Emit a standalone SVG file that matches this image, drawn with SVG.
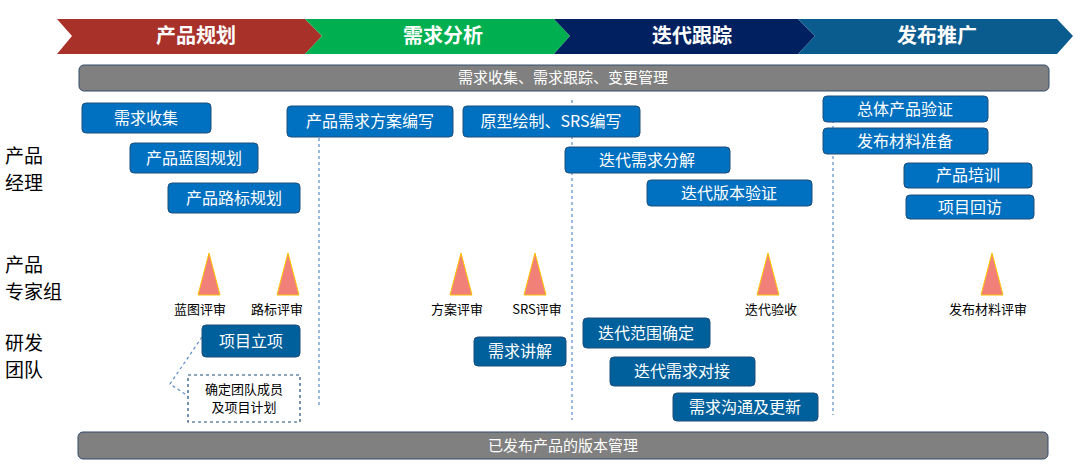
<svg xmlns="http://www.w3.org/2000/svg" width="1080" height="469" viewBox="0 0 1080 469">
<style>
text{font-family:"Noto Sans CJK SC","Liberation Sans",sans-serif}
.ph{fill:#fff;font-size:20px;font-weight:bold;text-anchor:middle}
.bar{fill:#808080;stroke:#2F4A6B;stroke-width:1}
.bt{fill:#fff;font-size:15px;text-anchor:middle}
.b{fill:#0070C0;stroke:#1F4E79;stroke-width:1}
.d{fill:#00609C;stroke:#1F4E79;stroke-width:1}
.t{fill:#fff;font-size:16px;text-anchor:middle}
.tri{fill:#F08078;stroke:#FFC000;stroke-width:1}
.lab{fill:#000;font-size:13px;text-anchor:middle}
.side{fill:#000;font-size:19px}
.dash{stroke:#5B8DC9;stroke-width:1.2;stroke-dasharray:3,3;fill:none}
</style>
<g id="phases">
<polygon points="57,19 305,19 322,36 305,54 57,54 72,36" fill="#A8312A"/>
<text class="ph" x="196" y="43">产品规划</text>
<polygon points="305,19 554,19 570,36 554,54 305,54 322,36" fill="#00B050"/>
<text class="ph" x="443" y="43">需求分析</text>
<polygon points="554,19 798,19 815,36 798,54 554,54 570,36" fill="#002060"/>
<text class="ph" x="692" y="43">迭代跟踪</text>
<polygon points="798,19 1057,19 1073,36 1057,54 798,54 815,36" fill="#0B5C8E"/>
<text class="ph" x="937" y="43">发布推广</text>
</g>
<g id="bar-top"><rect class="bar" x="79" y="65" width="970" height="26" rx="5"/><text class="bt" x="563" y="83">需求收集、需求跟踪、变更管理</text></g>
<g id="bar-bottom"><rect class="bar" x="78" y="432" width="970" height="27" rx="5"/><text class="bt" x="563" y="451">已发布产品的版本管理</text></g>
<g id="connectors">
<line class="dash" x1="319" y1="108" x2="319" y2="405"/>
<line class="dash" x1="572" y1="100" x2="572" y2="420"/>
<line class="dash" x1="833" y1="96" x2="833" y2="415"/>
<polyline class="dash" points="202,337 170,384 188,396"/>
</g>
<g id="side-labels">
<text class="side" x="5" y="163">产品</text><text class="side" x="5" y="190">经理</text>
<text class="side" x="5" y="272">产品</text><text class="side" x="5" y="299">专家组</text>
<text class="side" x="5" y="350">研发</text><text class="side" x="5" y="377">团队</text>
</g>
<g id="n1"><rect class="b" x="82" y="103" width="129" height="30" rx="4"/><text class="t" x="146" y="124">需求收集</text></g>
<g id="n2"><rect class="b" x="130" y="143" width="128" height="30" rx="4"/><text class="t" x="194" y="164">产品蓝图规划</text></g>
<g id="n3"><rect class="b" x="168" y="183" width="132" height="30" rx="4"/><text class="t" x="234" y="204">产品路标规划</text></g>
<g id="n4"><rect class="b" x="287" y="106" width="166" height="31" rx="4"/><text class="t" x="370" y="127">产品需求方案编写</text></g>
<g id="n5"><rect class="b" x="463" y="106" width="177" height="31" rx="4"/><text class="t" x="551" y="127">原型绘制、SRS编写</text></g>
<g id="n6"><rect class="b" x="565" y="147" width="165" height="26" rx="4"/><text class="t" x="647" y="166">迭代需求分解</text></g>
<g id="n7"><rect class="b" x="647" y="180" width="165" height="26" rx="4"/><text class="t" x="729" y="199">迭代版本验证</text></g>
<g id="n8"><rect class="b" x="823" y="96" width="165" height="26" rx="4"/><text class="t" x="905" y="115">总体产品验证</text></g>
<g id="n9"><rect class="b" x="823" y="128" width="165" height="26" rx="4"/><text class="t" x="905" y="147">发布材料准备</text></g>
<g id="n10"><rect class="b" x="904" y="163" width="128" height="25" rx="4"/><text class="t" x="968" y="181">产品培训</text></g>
<g id="n11"><rect class="b" x="906" y="195" width="128" height="24" rx="4"/><text class="t" x="970" y="213">项目回访</text></g>
<g id="reviews">
<polygon class="tri" points="209,253 198,295 220,295"/><text class="lab" x="200" y="314">蓝图评审</text>
<polygon class="tri" points="288,253 277,295 299,295"/><text class="lab" x="277" y="314">路标评审</text>
<polygon class="tri" points="461,253 450,295 472,295"/><text class="lab" x="457" y="314">方案评审</text>
<polygon class="tri" points="535,253 524,295 546,295"/><text class="lab" x="537" y="314">SRS评审</text>
<polygon class="tri" points="768,253 757,295 779,295"/><text class="lab" x="771" y="314">迭代验收</text>
<polygon class="tri" points="992,253 981,295 1003,295"/><text class="lab" x="988" y="314">发布材料评审</text>
</g>
<g id="d1"><rect class="d" x="202" y="325" width="98" height="32" rx="4"/><text class="t" x="251" y="347">项目立项</text></g>
<g id="d2"><rect class="d" x="474" y="337" width="92" height="29" rx="4"/><text class="t" x="520" y="357">需求讲解</text></g>
<g id="d3"><rect class="d" x="583" y="318" width="127" height="30" rx="4"/><text class="t" x="646" y="339">迭代范围确定</text></g>
<g id="d4"><rect class="d" x="610" y="357" width="145" height="29" rx="4"/><text class="t" x="682" y="377">迭代需求对接</text></g>
<g id="d5"><rect class="d" x="673" y="393" width="145" height="28" rx="4"/><text class="t" x="745" y="413">需求沟通及更新</text></g>
<g id="d6"><rect class="dash" x="188" y="375" width="112" height="47" style="stroke:#1F4E79"/><text class="lab" x="244" y="394">确定团队成员</text><text class="lab" x="244" y="412">及项目计划</text></g>
</svg>
